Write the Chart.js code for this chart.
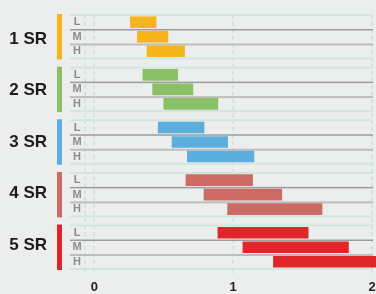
<!DOCTYPE html>
<html lang="en">
  <head>
    <meta charset="utf-8" />
    <title>SR ranges</title>
    <style>
      * {
        margin: 0;
        padding: 0;
      }
      body {
        background: #eceeed;
      }
      canvas {
        display: block;
      }
    </style>
  </head>
  <body>
    <canvas id="myChart" width="376" height="294"></canvas>

    <script src="https://cdn.jsdelivr.net/npm/chart.js@4.4.1/dist/chart.umd.min.js"></script>

    <script>
      const groupLabels = ["1 SR", "2 SR", "3 SR", "4 SR", "5 SR"];
      const rowLabels = ["L", "M", "H"];
      const groupColors = ["#f6b51d", "#8cc067", "#5caede", "#cd6a65", "#e1262a"];
      // range start / end per group, rows L, M, H
      const rangeStart = [
        [0.26, 0.31, 0.38],
        [0.35, 0.42, 0.5],
        [0.46, 0.56, 0.67],
        [0.66, 0.79, 0.96],
        [0.89, 1.07, 1.29],
      ];
      const rangeEnd = [
        [0.445, 0.53, 0.65],
        [0.6, 0.71, 0.89],
        [0.79, 0.96, 1.15],
        [1.14, 1.35, 1.64],
        [1.54, 1.83, 2.1],
      ];
      const tickValues = [0, 1, 2];

      const groupGap = 0.63;
      const groupStep = rowLabels.length + groupGap;
      const rowPos = (g, r) => g * groupStep + r + 0.5;

      const datasets = groupLabels.map((label, g) => ({
        label: label,
        data: rowLabels.map((_, r) => ({
          y: rowPos(g, r),
          x: [rangeStart[g][r], rangeEnd[g][r]],
        })),
        backgroundColor: groupColors[g],
        borderWidth: 0,
        barThickness: 11,
        grouped: false,
        clip: false,
      }));

      const groupDecor = {
        id: "groupDecor",
        beforeDatasetsDraw(chart) {
          const { ctx, chartArea, scales } = chart;
          const y = scales.y;
          const left = chartArea.left;
          const right = chartArea.right;
          ctx.save();
          groupLabels.forEach((label, g) => {
            const top = y.getPixelForValue(g * groupStep);
            const bottom = y.getPixelForValue(g * groupStep + rowLabels.length);

            // teal borders of the group
            ctx.fillStyle = "#d0e6de";
            ctx.fillRect(left, top - 1, right - left, 2);
            ctx.fillRect(left, bottom - 1, right - left, 2);

            // gray separators between rows
            ctx.fillStyle = "#9c9c9c";
            let yy = y.getPixelForValue(g * groupStep + 1);
            ctx.fillRect(left, yy - 0.5, right - left, 1.5);
            ctx.fillStyle = "#bdbdbd";
            yy = y.getPixelForValue(g * groupStep + 2);
            ctx.fillRect(left, yy - 0.5, right - left, 2);

            // colored strip
            ctx.fillStyle = groupColors[g];
            ctx.fillRect(57, top - 1, 5, bottom - top + 2);

            // group label
            ctx.font = "bold 17px 'Liberation Sans', Arial, sans-serif";
            ctx.fillStyle = "#1c1c1c";
            ctx.textAlign = "right";
            ctx.textBaseline = "middle";
            ctx.fillText(label, 47, (top + bottom) / 2 + 2.5 - g * 1.2);

            // row labels
            ctx.font = "bold 11px 'Liberation Sans', Arial, sans-serif";
            ctx.fillStyle = "#8c8c8c";
            ctx.textAlign = "center";
            rowLabels.forEach((r, i) => {
              ctx.fillText(r, 77, y.getPixelForValue(rowPos(g, i)));
            });
          });
          ctx.restore();
        },
      };

      const config = {
        type: "bar",
        data: { datasets: datasets },
        options: {
          indexAxis: "y",
          responsive: false,
          animation: false,
          layout: {
            padding: { left: 70, top: 15, right: 3, bottom: 0 },
          },
          scales: {
            y: {
              type: "linear",
              display: false,
              reverse: true,
              offset: false,
              min: 0,
              max: (groupLabels.length - 1) * groupStep + rowLabels.length,
            },
            x: {
              type: "linear",
              min: -0.175,
              max: 2.007,
              afterBuildTicks: (scale) => {
                scale.ticks = [-0.07, ...tickValues].map((v) => ({ value: v }));
              },
              afterFit: (scale) => {
                scale.height = 25;
                scale.paddingLeft = 0;
                scale.paddingRight = 0;
              },
              grid: {
                color: "#d0e6de",
                lineWidth: 2,
                drawTicks: true,
                tickLength: 5,
                tickColor: "#d0e6de",
                tickWidth: 2,
                tickBorderDash: [4, 3],
              },
              border: {
                display: false,
                dash: [4, 3],
              },
              ticks: {
                padding: 6,
                color: "#222",
                font: {
                  family: "'Liberation Sans', Arial, sans-serif",
                  size: 13,
                  weight: "bold",
                },
                callback: (v) => (tickValues.includes(v) ? v : ""),
              },
            },
          },
          plugins: {
            legend: { display: false },
            tooltip: { enabled: false },
          },
        },
        plugins: [groupDecor],
      };

      const myChart = new Chart(document.getElementById("myChart"), config);
    </script>
  </body>
</html>
